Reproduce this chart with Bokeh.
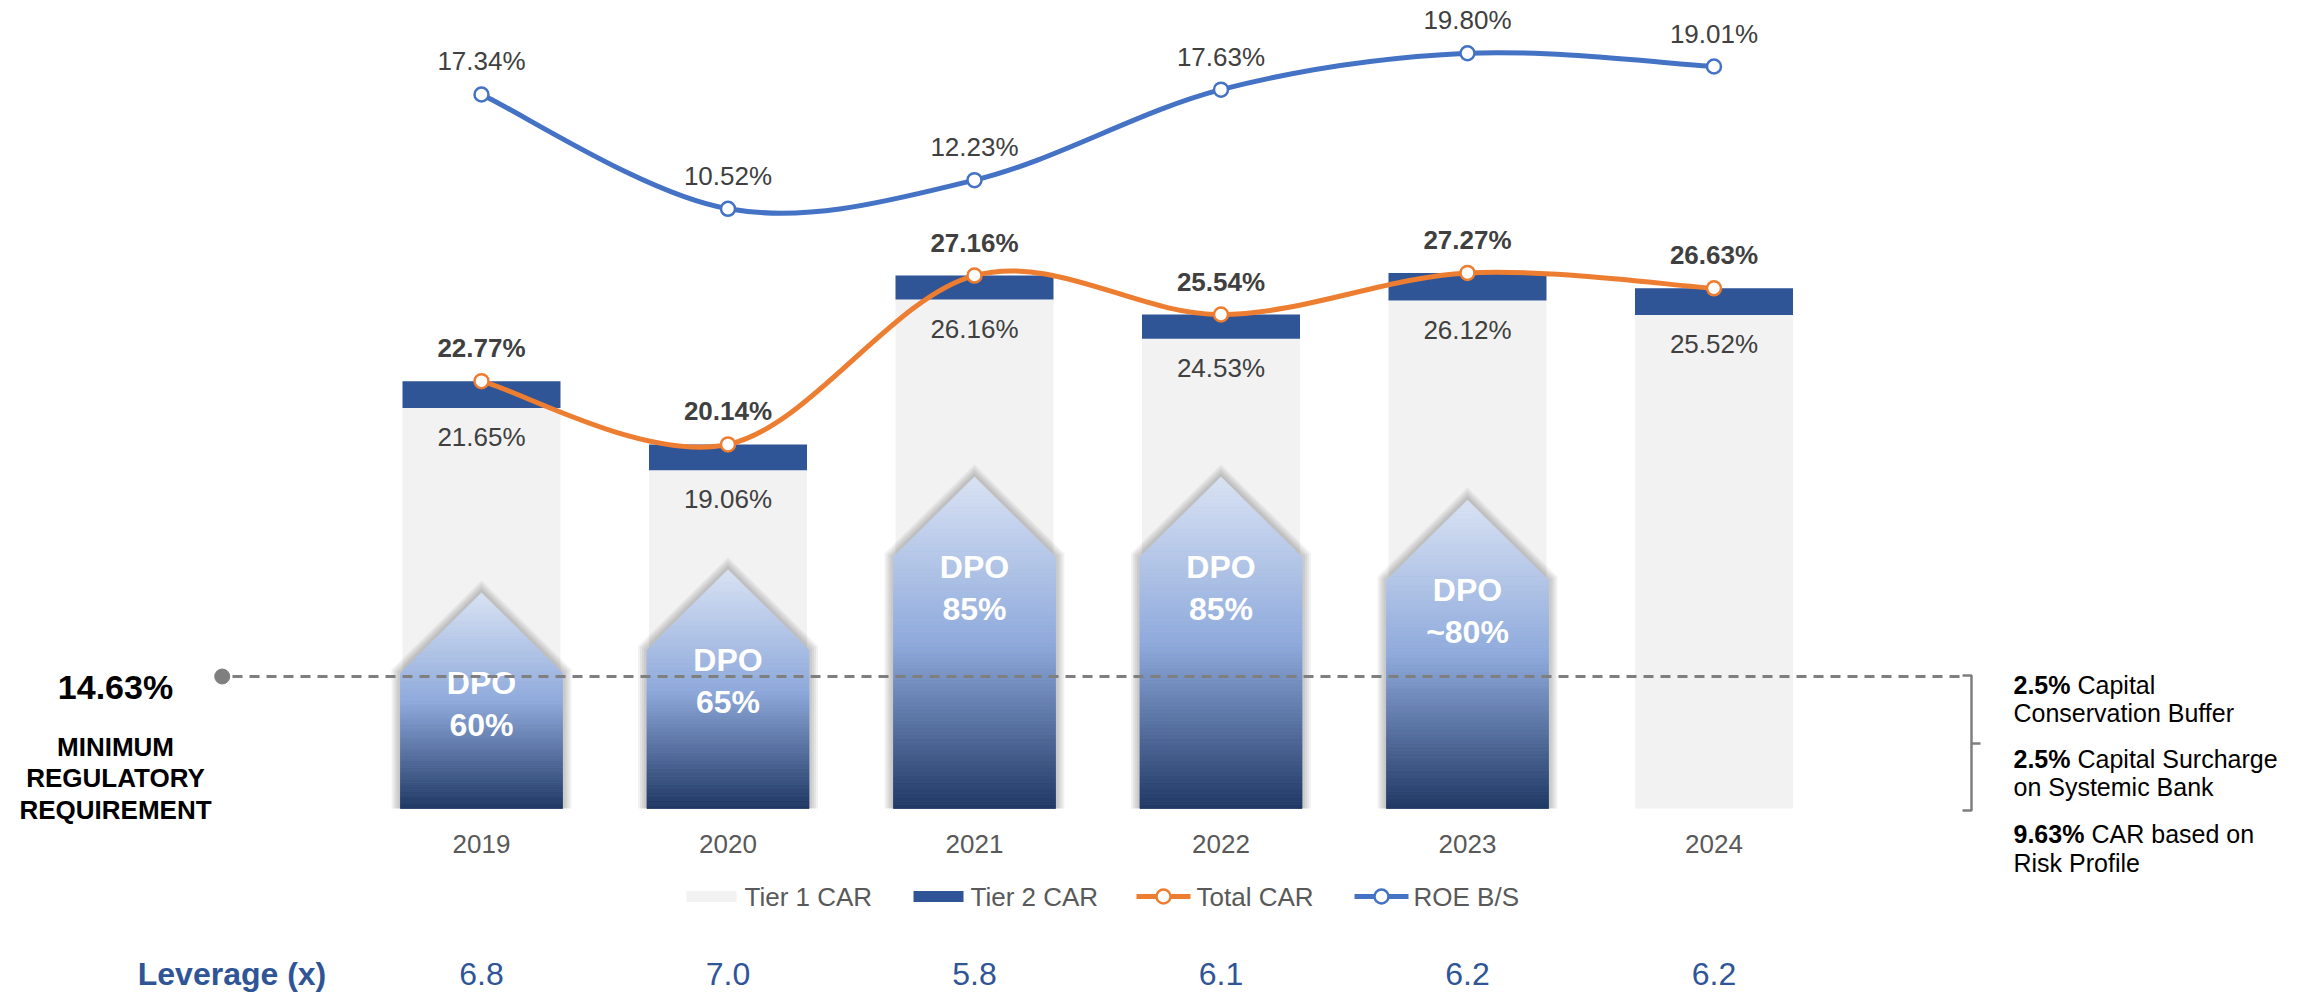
from bokeh.plotting import figure
from bokeh.models import Range1d
from bokeh.core.properties import value
from bokeh.embed import file_html
from bokeh.resources import INLINE

# ---------------- data ----------------
years = ["2019", "2020", "2021", "2022", "2023", "2024"]
tier1_car = [21.65, 19.06, 26.16, 24.53, 26.12, 25.52]
total_car = [22.77, 20.14, 27.16, 25.54, 27.27, 26.63]
roe_bs = [17.34, 10.52, 12.23, 17.63, 19.80, 19.01]
leverage = [6.8, 7.0, 5.8, 6.1, 6.2, 6.2]
dpo_values = [60, 65, 85, 85, 80]
dpo_labels = ["60%", "65%", "85%", "85%", "~80%"]
min_requirement = 14.63
req_bold = ["2.5%", "2.5%", "9.63%"]
req_line1 = ["Capital", "Capital Surcharge", "CAR based on"]
req_line2 = ["Conservation Buffer", "on Systemic Bank", "Risk Profile"]

# ---------------- layout ----------------
FONT = "Liberation Sans"
W, H = 2308, 992
XS, XE = -1.9513, 7.4118
YS, YE = -2.6507, 38.597
RS, RE = -36.240, 22.948
BASE = 5.0

C_T1 = "#f2f2f2"
C_T2 = "#2f5597"
C_OR = "#ed7d31"
C_BL = "#4472c4"
C_LAB = "#404040"
C_AX = "#595959"
C_GR = "#7f7f7f"
C_LEV = "#2f5597"


def rx(px):
    return XS + px / W * (XE - XS)


def ry(py):
    return YE - py / H * (YE - YS)


def dxp(px):
    return px / W * (XE - XS)


def dyp(px):
    return px / H * (YE - YS)


p = figure(width=W, height=H, x_range=Range1d(XS, XE), y_range=Range1d(YS, YE),
           output_backend="svg", toolbar_location=None,
           x_axis_location=None, y_axis_location=None, min_border=0)
p.extra_y_ranges = {"roe": Range1d(RS, RE)}
p.outline_line_color = None
p.background_fill_color = "white"
p.border_fill_color = "white"
p.xgrid.visible = False
p.ygrid.visible = False

xi = list(range(len(years)))
BAR_W = 0.641

# ---------------- bars ----------------
p.vbar(x=xi, bottom=BASE, top=tier1_car, width=BAR_W, fill_color=C_T1, line_color=None)
p.vbar(x=xi, bottom=tier1_car, top=total_car, width=BAR_W, fill_color=C_T2, line_color=None)

# ---------------- DPO houses ----------------
stops = [(0.0, (216, 226, 243)), (0.5, (143, 170, 220)), (1.0, (31, 56, 100))]


def grad(t):
    for (t0, c0), (t1, c1) in zip(stops, stops[1:]):
        if t <= t1:
            f = (t - t0) / (t1 - t0)
            return "#%02x%02x%02x" % tuple(int(round(a + (b - a) * f)) for a, b in zip(c0, c1))
    return "#%02x%02x%02x" % stops[-1][1]


hw = dxp(81)
peaks = [BASE + dyp(d * 4.64 - 63) for d in dpo_values]
sh_xs, sh_ys = [], []
g_xs, g_ys, g_cols = [], [], []
N = 90
for i, peak in enumerate(peaks):
    c = xi[i]
    shoulder = peak - dyp(80)
    for d in (9, 7, 5, 3):
        sh_xs.append([c - hw - dxp(d), c - hw - dxp(d), c, c + hw + dxp(d), c + hw + dxp(d)])
        sh_ys.append([BASE, shoulder + dyp(0.414 * d), peak + dyp(1.414 * d),
                      shoulder + dyp(0.414 * d), BASE])

    def half(y):
        return hw if y <= shoulder else hw * (peak - y) / (peak - shoulder)

    for k in range(N):
        y0 = BASE + (peak - BASE) * k / N
        y1 = BASE + (peak - BASE) * (k + 1) / N
        side = [y0] + ([shoulder] if y0 < shoulder < y1 else []) + [y1]
        xs_ = [c + half(y) for y in side] + [c - half(y) for y in reversed(side)]
        ys_ = list(side) + list(reversed(side))
        g_xs.append(xs_)
        g_ys.append(ys_)
        g_cols.append(grad((peak - (y0 + y1) / 2) / (peak - BASE)))

p.patches(sh_xs, sh_ys, fill_color="black", fill_alpha=0.055, line_color=None)
p.patches(g_xs, g_ys, fill_color=g_cols, line_color=g_cols, line_width=0.8)

dpo_x = xi[:len(dpo_values)]
p.text(x=dpo_x, y=peaks, text=["DPO"] * len(dpo_values), text_font=value(FONT),
       text_font_size=value("32px"), text_font_style="bold", text_color="white",
       text_align="center", text_baseline="middle", y_offset=90)
p.text(x=dpo_x, y=peaks, text=dpo_labels, text_font=value(FONT),
       text_font_size=value("32px"), text_font_style="bold", text_color="white",
       text_align="center", text_baseline="middle", y_offset=132)

# ---------------- minimum regulatory requirement ----------------
y_req = ry(676)
p.segment(x0=[rx(232)], y0=[y_req], x1=[rx(1962)], y1=[y_req], line_color=C_GR,
          line_width=3, line_dash="10 7")
p.scatter(x=[rx(221.7)], y=[y_req], size=15, fill_color=C_GR, line_color=C_GR)
p.multi_line(xs=[[rx(1962), rx(1971), rx(1971), rx(1962)], [rx(1971), rx(1980)]],
             ys=[[ry(675), ry(675), ry(810), ry(810)], [ry(743), ry(743)]],
             line_color=C_GR, line_width=2.5)

p.text(x=[rx(115)], y=[ry(686)], text=[f"{min_requirement:.2f}%"], text_font=value(FONT),
       text_font_size=value("34px"), text_font_style="bold", text_color="black",
       text_align="center", text_baseline="middle")
p.text(x=[rx(115)] * 3, y=[ry(746), ry(777.5), ry(809)],
       text=["MINIMUM", "REGULATORY", "REQUIREMENT"], text_font=value(FONT),
       text_font_size=value("26px"), text_font_style="bold", text_color="black",
       text_align="center", text_baseline="middle")

r_x = rx(2013)
b1 = [ry(684), ry(758), ry(833.5)]
b2 = [ry(712.5), ry(786), ry(862)]
p.text(x=[r_x] * 3, y=b1, text=req_bold, text_font=value(FONT), text_font_size=value("25px"),
       text_font_style="bold", text_color="black", text_align="left", text_baseline="middle")
for yb, t, off in zip(b1, req_line1, [64, 64, 78]):
    p.text(x=[r_x], y=[yb], text=[t], text_font=value(FONT), text_font_size=value("25px"),
           text_color="black", text_align="left", text_baseline="middle", x_offset=off)
p.text(x=[r_x] * 3, y=b2, text=req_line2, text_font=value(FONT), text_font_size=value("25px"),
       text_color="black", text_align="left", text_baseline="middle")


# ---------------- smooth lines ----------------
def smooth(xs, ys):
    pts = list(zip(xs, ys))
    n = len(pts)
    out = {k: [] for k in ("x0", "y0", "x1", "y1", "cx0", "cy0", "cx1", "cy1")}
    for i in range(n - 1):
        p0 = pts[i - 1] if i > 0 else pts[i]
        p1, p2 = pts[i], pts[i + 1]
        p3 = pts[i + 2] if i + 2 < n else pts[i + 1]
        out["x0"].append(p1[0]); out["y0"].append(p1[1])
        out["x1"].append(p2[0]); out["y1"].append(p2[1])
        out["cx0"].append(p1[0] + (p2[0] - p0[0]) / 6); out["cy0"].append(p1[1] + (p2[1] - p0[1]) / 6)
        out["cx1"].append(p2[0] - (p3[0] - p1[0]) / 6); out["cy1"].append(p2[1] - (p3[1] - p1[1]) / 6)
    return out


p.bezier(**smooth(xi, total_car), line_color=C_OR, line_width=5, line_cap="round")
p.bezier(**smooth(xi, roe_bs), line_color=C_BL, line_width=5, line_cap="round", y_range_name="roe")
p.scatter(x=xi, y=total_car, size=14, fill_color="white", line_color=C_OR, line_width=2.5)
p.scatter(x=xi, y=roe_bs, size=14, fill_color="white", line_color=C_BL, line_width=2.5,
          y_range_name="roe")

# ---------------- data labels ----------------
pct = lambda v: f"{v:.2f}%"
p.text(x=xi, y=roe_bs, text=[pct(v) for v in roe_bs], text_font=value(FONT),
       text_font_size=value("26px"), text_color=C_LAB, text_align="center",
       text_baseline="middle", y_offset=-33, y_range_name="roe")
p.text(x=xi, y=total_car, text=[pct(v) for v in total_car], text_font=value(FONT),
       text_font_size=value("26px"), text_font_style="bold", text_color=C_LAB,
       text_align="center", text_baseline="middle", y_offset=-33)
p.text(x=xi, y=tier1_car, text=[pct(v) for v in tier1_car], text_font=value(FONT),
       text_font_size=value("26px"), text_color=C_LAB, text_align="center",
       text_baseline="middle", y_offset=29)

# ---------------- category labels ----------------
p.text(x=xi, y=[ry(843)] * len(xi), text=years, text_font=value(FONT),
       text_font_size=value("26px"), text_color=C_AX, text_align="center",
       text_baseline="middle")

# ---------------- legend ----------------
ly = ry(896)
p.rect(x=[rx(711), rx(938)], y=[ly, ly], width=50, height=11, width_units="screen",
       height_units="screen", fill_color=[C_T1, C_T2], line_color=None)
p.segment(x0=[rx(1136), rx(1354)], y0=[ly, ly], x1=[rx(1190), rx(1408)], y1=[ly, ly],
          line_color=[C_OR, C_BL], line_width=5)
p.scatter(x=[rx(1163), rx(1381)], y=[ly, ly], size=14, fill_color="white",
          line_color=[C_OR, C_BL], line_width=2.5)
p.text(x=[rx(744), rx(970), rx(1196), rx(1413)], y=[ly] * 4,
       text=["Tier 1 CAR", "Tier 2 CAR", "Total CAR", "ROE B/S"], text_font=value(FONT),
       text_font_size=value("26px"), text_color=C_AX, text_align="left",
       text_baseline="middle")

# ---------------- leverage row ----------------
p.text(x=[rx(231.5)], y=[ry(973)], text=["Leverage (x)"], text_font=value(FONT),
       text_font_size=value("32px"), text_font_style="bold", text_color=C_LEV,
       text_align="center", text_baseline="middle")
p.text(x=xi, y=[ry(973)] * len(xi), text=[f"{v:.1f}" for v in leverage], text_font=value(FONT),
       text_font_size=value("32px"), text_color=C_LEV, text_align="center",
       text_baseline="middle")

open("out.html", "w").write(file_html(p, INLINE))
